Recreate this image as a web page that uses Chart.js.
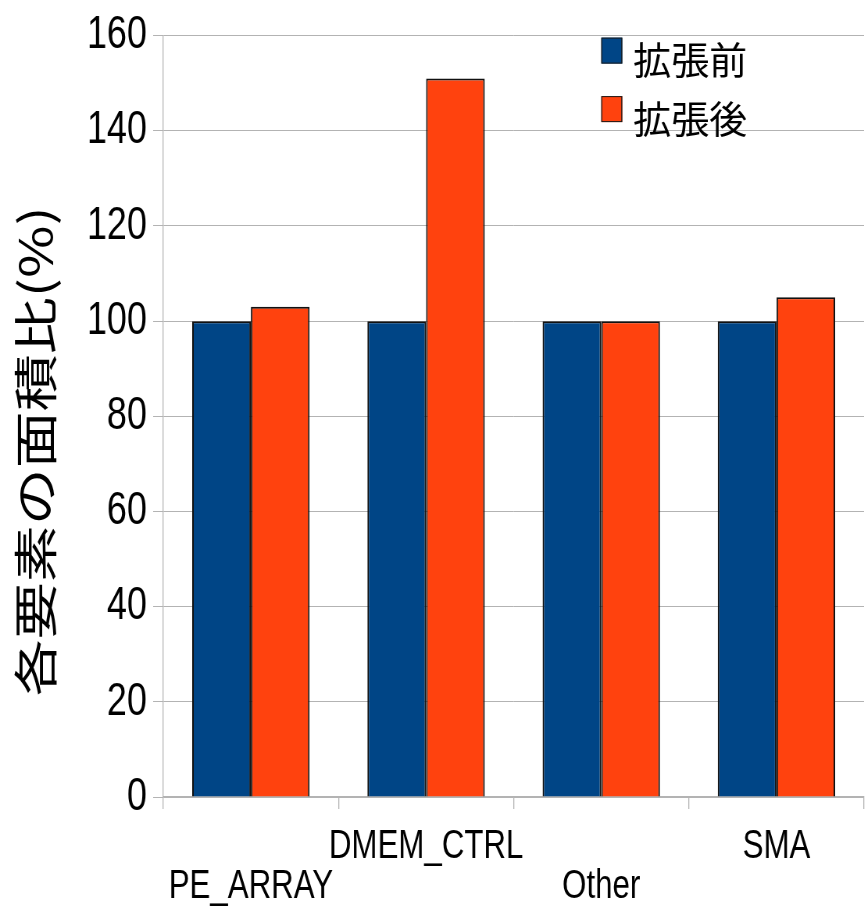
<!DOCTYPE html>
<html>
<head>
<meta charset="utf-8">
<script src="https://cdn.jsdelivr.net/npm/chart.js@4"></script>
<style>
  html, body { margin: 0; padding: 0; background: #fff; overflow: hidden; }
  #wrap { width: 1111px; height: 912px; transform: scaleX(0.78125); transform-origin: 0 0; }
</style>
</head>
<body>
<div id="wrap"><canvas id="myChart" width="1111" height="912"></canvas></div>
<script>
// data
var categories = [['', 'PE_ARRAY'], ['DMEM_CTRL', ''], ['', 'Other'], ['SMA', '']];
var before = [100, 100, 100, 100];
var after = [103, 151, 100, 105];
var seriesNames = ['拡張前', '拡張後'];
var yTitle = '各要素の面積比(%)\u3000 ';

// the reference draws narrow axis text, so the canvas is squeezed sideways by K
var K = 1.28;
var numFont = '"Liberation Sans", Arial, sans-serif';
var cjkFont = '"Noto Sans CJK JP", sans-serif';

// legend drawn inside the plot, top right (undo the squeeze for it)
var insideLegend = {
  id: 'insideLegend',
  afterDraw: function(chart) {
    var c = chart.ctx;
    var area = chart.chartArea;
    var x = (area.left + (area.right - area.left) * 0.625) / K;
    var y = area.top + 2;
    c.save();
    c.scale(K, 1);
    chart.data.datasets.forEach(function(ds, i) {
      var top = y + i * 58.5;
      c.fillStyle = ds.backgroundColor;
      c.fillRect(x, top, 21, 26);
      c.strokeStyle = '#1a1a1a';
      c.lineWidth = 1;
      c.strokeRect(x + 0.5, top + 0.5, 20, 25);
      c.fillStyle = '#000';
      c.font = '38px ' + cjkFont;
      c.textBaseline = 'middle';
      c.fillText(ds.label, x + 32, top + 22);
    });
    c.restore();
  }
};

var ctx = document.getElementById('myChart').getContext('2d');
var chart = new Chart(ctx, {
  type: 'bar',
  data: {
    labels: categories,
    datasets: [{
      label: seriesNames[0],
      data: before,
      backgroundColor: '#004586',
      borderColor: '#111',
      borderWidth: 2
    }, {
      label: seriesNames[1],
      data: after,
      backgroundColor: '#ff420e',
      borderColor: '#111',
      borderWidth: 2
    }]
  },
  options: {
    responsive: false,
    animation: false,
    layout: { padding: { top: 35, right: 5, left: 0, bottom: 0 } },
    plugins: {
      legend: { display: false },
      tooltip: { enabled: false }
    },
    datasets: {
      bar: { categoryPercentage: 0.67, barPercentage: 1.0 }
    },
    scales: {
      x: {
        grid: { offset: true, drawOnChartArea: false, drawTicks: true, tickLength: 12, color: '#b3b3b3', lineWidth: 1.3 },
        border: { color: '#b3b3b3', width: 1.3 },
        ticks: {
          autoSkip: false, maxRotation: 0, minRotation: 0,
          color: '#000', padding: 18,
          font: { family: numFont, size: 40, lineHeight: 1.0 }
        },
        afterFit: function(scale) { scale.height = 115; }
      },
      y: {
        min: 0, max: 160,
        ticks: {
          stepSize: 20, color: '#000', padding: 8,
          font: { family: numFont, size: 46 }
        },
        grid: { color: '#b3b3b3', tickLength: 13 },
        border: { color: '#b3b3b3', width: 1.3 },
        title: {
          display: true, text: yTitle, color: '#000',
          font: { family: cjkFont, size: 57 },
          padding: { top: 11, bottom: 0 }
        },
        afterFit: function(scale) { scale.width = 209; }
      }
    }
  },
  plugins: [insideLegend]
});
</script>
</body>
</html>
